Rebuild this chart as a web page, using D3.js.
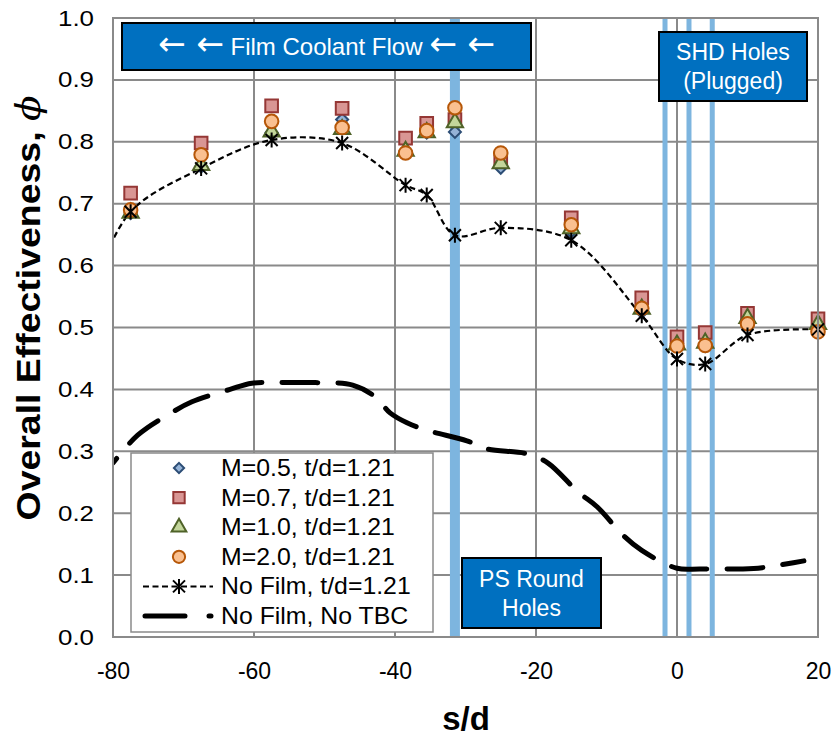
<!DOCTYPE html>
<html><head><meta charset="utf-8">
<script src="https://cdn.jsdelivr.net/npm/d3@7"></script>
<style>body{margin:0;background:#fff}svg{display:block}text{font-family:"Liberation Sans",Arial,sans-serif}</style>
</head><body><svg id="c" width="836" height="736"></svg>
<script>
// ---- data ----
const filmX = [-77.5, -67.5, -57.5, -47.5, -38.5, -35.5, -31.5, -25, -15, -5, 0, 4, 10, 20];
const m05 = [0.685, 0.760, 0.815, 0.836, 0.785, 0.815, 0.816, 0.758, 0.655, 0.525, 0.470, 0.470, 0.510, 0.500];
const m07 = [0.717, 0.798, 0.858, 0.854, 0.806, 0.830, 0.836, 0.773, 0.677, 0.548, 0.485, 0.492, 0.523, 0.514];
const m10 = [0.685, 0.762, 0.816, 0.820, 0.785, 0.815, 0.831, 0.765, 0.660, 0.530, 0.472, 0.475, 0.515, 0.505];
const m20 = [0.690, 0.779, 0.833, 0.823, 0.782, 0.818, 0.855, 0.782, 0.666, 0.531, 0.470, 0.471, 0.506, 0.493];
const noFilmX = [-82.5, -77.5, -67.5, -57.5, -47.5, -38.5, -35.5, -31.5, -25, -15, -5, 0, 4, 10, 20];
const noFilm = [0.575, 0.687, 0.757, 0.803, 0.798, 0.730, 0.714, 0.649, 0.661, 0.641, 0.519, 0.449, 0.441, 0.488, 0.497];
const noTbcX = [-80, -76.5, -71.6, -68.8, -63.4, -60.3, -54.5, -51.3, -46, -42.8, -40.7, -38.3, -35.5, -29.8, -27, -21.3, -18.3, -14, -11.3, -7.7, -5, 0, 3.3, 9.2, 12.1, 18];
const noTbc = [0.281, 0.326, 0.363, 0.380, 0.400, 0.410, 0.411, 0.411, 0.407, 0.388, 0.362, 0.346, 0.334, 0.317, 0.304, 0.296, 0.281, 0.234, 0.210, 0.165, 0.140, 0.111, 0.110, 0.110, 0.112, 0.123];
const holeThick = [-31.5];
const holeThin = [-1.7, 1.7, 5.0];
const xTicks = [-80, -60, -40, -20, 0, 20];
const yTicks = [0, 0.1, 0.2, 0.3, 0.4, 0.5, 0.6, 0.7, 0.8, 0.9, 1.0];
const legendLabels = ["M=0.5, t/d=1.21", "M=0.7, t/d=1.21", "M=1.0, t/d=1.21", "M=2.0, t/d=1.21", "No Film, t/d=1.21", "No Film, No TBC"];

// ---- layout ----
const svg = d3.select("#c");
const L = 113, T = 18, R = 818, B = 637;
const x = d3.scaleLinear().domain([-80, 20]).range([L, R]);
const y = d3.scaleLinear().domain([0, 1]).range([B, T]);
const grid = "#8a8a8a";

svg.append("defs").append("clipPath").attr("id", "clip")
  .append("rect").attr("x", L).attr("y", T).attr("width", R - L).attr("height", B - T);

// gridlines
svg.append("g").selectAll("line").data(yTicks).join("line")
  .attr("x1", L).attr("x2", R).attr("y1", d => y(d)).attr("y2", d => y(d))
  .attr("stroke", grid).attr("stroke-width", 2);
svg.append("g").selectAll("line").data(xTicks).join("line")
  .attr("y1", T).attr("y2", B).attr("x1", d => x(d)).attr("x2", d => x(d))
  .attr("stroke", grid).attr("stroke-width", 2);

// tick labels
const xa = svg.append("g").attr("transform", `translate(0,${B})`)
  .call(d3.axisBottom(x).tickValues(xTicks).tickSize(0).tickPadding(34).tickFormat(d => String(d)));
xa.select(".domain").remove();
xa.selectAll("text").attr("font-size", 23).attr("fill", "#000").attr("font-family", "Liberation Sans, Arial, sans-serif")
  .attr("dy", "0.35em");
const ya = svg.append("g").attr("transform", `translate(${L},0)`)
  .call(d3.axisLeft(y).tickValues(yTicks).tickSize(0).tickPadding(19).tickFormat(d3.format(".1f")));
ya.select(".domain").remove();
ya.selectAll("text").attr("font-size", 22).attr("fill", "#000").attr("font-family", "Liberation Sans, Arial, sans-serif")
  .attr("textLength", 36).attr("lengthAdjust", "spacingAndGlyphs");

// hole bands
const band = "#7db5df";
svg.append("g").selectAll("line").data(holeThick).join("line")
  .attr("x1", d => x(d)).attr("x2", d => x(d)).attr("y1", T).attr("y2", B)
  .attr("stroke", band).attr("stroke-width", 10);
svg.append("g").selectAll("line").data(holeThin).join("line")
  .attr("x1", d => x(d)).attr("x2", d => x(d)).attr("y1", T).attr("y2", B)
  .attr("stroke", band).attr("stroke-width", 5);

// lines
const lineGen = d3.line().x(d => x(d[0])).y(d => y(d[1])).curve(d3.curveCatmullRom.alpha(0.5));
svg.append("path").attr("clip-path", "url(#clip)")
  .attr("d", lineGen(noTbcX.map((v, i) => [v, noTbc[i]])))
  .attr("fill", "none").attr("stroke", "#000").attr("stroke-width", 5)
  .attr("stroke-dasharray", "36,20").attr("stroke-dashoffset", 30).attr("stroke-linecap", "round");
svg.append("path").attr("clip-path", "url(#clip)")
  .attr("d", lineGen(noFilmX.map((v, i) => [v, noFilm[i]])))
  .attr("fill", "none").attr("stroke", "#000").attr("stroke-width", 2.2)
  .attr("stroke-dasharray", "6,3.5");

// markers
const styles = [
  {vals: m05, type: "diamond", fill: "#95b3d7", stroke: "#2c4d75", size: 100},
  {vals: m07, type: "square", fill: "#d99694", stroke: "#953735", size: 160},
  {vals: m10, type: "triangle", fill: "#c3d69b", stroke: "#4f6228", size: 115},
  {vals: m20, type: "circle", fill: "#fac090", stroke: "#b65708", size: 145}
];
const sym = {square: d3.symbolSquare, triangle: d3.symbolTriangle, circle: d3.symbolCircle};
function symPath(s, k) {
  if (s.type === "diamond") { const r = 6 * k; return `M0,${-r}L${r},0L0,${r}L${-r},0Z`; }
  return d3.symbol().type(sym[s.type]).size(s.size * k * k)();
}
styles.forEach(s => {
  svg.append("g").selectAll("path").data(filmX.map((v, i) => [v, s.vals[i]])).join("path")
    .attr("transform", d => `translate(${x(d[0])},${y(d[1])})`)
    .attr("d", symPath(s, 1)).attr("fill", s.fill).attr("stroke", s.stroke).attr("stroke-width", 2);
});
const star = "M-6,-6L6,6M-6,6L6,-6M0,-7.5L0,7.5";
svg.append("g").selectAll("path").data(noFilmX.map((v, i) => [v, noFilm[i]]).filter(d => d[0] >= -80)).join("path")
  .attr("transform", d => `translate(${x(d[0])},${y(d[1])})`)
  .attr("d", star).attr("stroke", "#000").attr("stroke-width", 2).attr("fill", "none");

// plot border
svg.append("rect").attr("x", L).attr("y", T).attr("width", R - L).attr("height", B - T)
  .attr("fill", "none").attr("stroke", grid).attr("stroke-width", 2);

// annotation boxes
function box(x0, y0, x1, y1, lines, fs, lh) {
  const g = svg.append("g");
  g.append("rect").attr("x", x0).attr("y", y0).attr("width", x1 - x0).attr("height", y1 - y0)
    .attr("fill", "#0070c0").attr("stroke", "#000").attr("stroke-width", 2);
  const cy = (y0 + y1) / 2, n = lines.length;
  lines.forEach((t, i) => {
    g.append("text").attr("x", (x0 + x1) / 2).attr("y", cy + (i - (n - 1) / 2) * lh)
      .attr("dy", "0.35em").attr("text-anchor", "middle").attr("fill", "#fff")
      .attr("font-size", fs).text(t);
  });
  return g;
}
// film coolant flow box with wide arrows
const fg = svg.append("g");
fg.append("rect").attr("x", 122).attr("y", 23).attr("width", 409).attr("height", 47)
  .attr("fill", "#0070c0").attr("stroke", "#000").attr("stroke-width", 2);
const ft = fg.append("text").attr("x", 326.5).attr("y", 46.5).attr("dy", "0.35em")
  .attr("text-anchor", "middle").attr("fill", "#fff").attr("font-size", 24);
const arrowFont = "DejaVu Sans, sans-serif";
ft.append("tspan").attr("font-family", arrowFont).attr("font-size", 33).text("\u2190 \u2190");
ft.append("tspan").text(" Film Coolant Flow ");
ft.append("tspan").attr("font-family", arrowFont).attr("font-size", 33).text("\u2190 \u2190");

box(659, 32, 807, 101, ["SHD Holes", "(Plugged)"], 23, 29);
box(462, 558, 601, 628, ["PS Round", "Holes"], 23, 29);

// legend
const lg = svg.append("g");
lg.append("rect").attr("x", 131).attr("y", 453).attr("width", 302).attr("height", 179)
  .attr("fill", "#fff").attr("stroke", grid).attr("stroke-width", 1.5);
const rowY = i => 468 + i * 29.6;
styles.forEach((s, i) => {
  lg.append("path").attr("transform", `translate(179,${rowY(i)})`)
    .attr("d", symPath(s, s.type === "diamond" ? 0.85 : 0.9))
    .attr("fill", s.fill).attr("stroke", s.stroke).attr("stroke-width", 2);
});
lg.append("line").attr("x1", 143).attr("x2", 213).attr("y1", rowY(4)).attr("y2", rowY(4))
  .attr("stroke", "#000").attr("stroke-width", 2).attr("stroke-dasharray", "6,3.5");
lg.append("path").attr("transform", `translate(179,${rowY(4)})`).attr("d", star)
  .attr("stroke", "#000").attr("stroke-width", 2);
lg.append("line").attr("x1", 145).attr("x2", 211).attr("y1", rowY(5)).attr("y2", rowY(5))
  .attr("stroke", "#000").attr("stroke-width", 5).attr("stroke-dasharray", "40,24").attr("stroke-linecap", "round");
legendLabels.forEach((t, i) => {
  lg.append("text").attr("transform", `translate(221,${rowY(i)}) scale(1.08,1)`).attr("dy", "0.35em")
    .attr("font-size", 23).attr("fill", "#000").text(t);
});

// axis titles
svg.append("text").attr("x", 466).attr("y", 730).attr("text-anchor", "middle")
  .attr("font-size", 33).attr("font-weight", "bold").text("s/d");
const yt = svg.append("text").attr("transform", "translate(40,308) rotate(-90)")
  .attr("text-anchor", "middle").attr("font-size", 33).attr("font-weight", "bold")
  .attr("textLength", 425).attr("lengthAdjust", "spacingAndGlyphs");
yt.append("tspan").text("Overall Effectiveness, ");
yt.append("tspan").attr("font-style", "italic").attr("font-family", "DejaVu Serif, serif").attr("font-weight", "normal").text("\u03d5");
</script></body></html>
